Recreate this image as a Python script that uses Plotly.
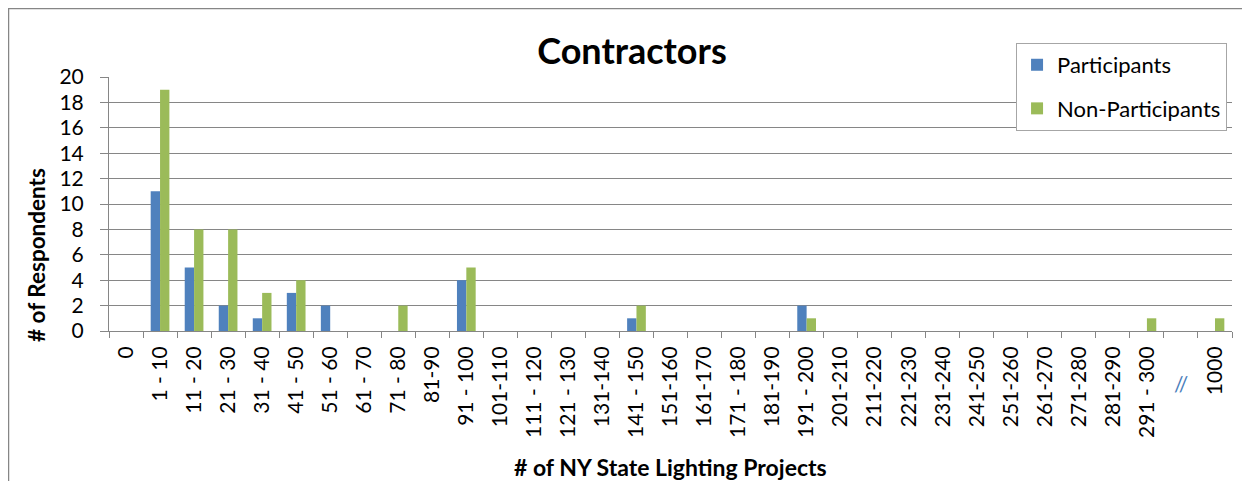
import plotly.graph_objects as go

# Project count buckets (the blank slot before 1000 is the axis break)
categories = [
    "0", "1 - 10", "11 - 20", "21 - 30", "31 - 40", "41 - 50", "51 - 60",
    "61 - 70", "71 - 80", "81-90", "91 - 100", "101-110", "111 - 120",
    "121 - 130", "131-140", "141 - 150", "151-160", "161-170", "171 - 180",
    "181-190", "191 - 200", "201-210", "211-220", "221-230", "231-240",
    "241-250", "251-260", "261-270", "271-280", "281-290", "291 - 300",
    " ", "1000",
]

participants = [
    0, 11, 5, 2, 1, 3, 2, 0, 0, 0, 4, 0, 0, 0, 0, 1, 0,
    0, 0, 0, 2, 0, 0, 0, 0, 0, 0, 0, 0, 0, 0, 0, 0,
]

non_participants = [
    0, 19, 8, 8, 3, 4, 0, 0, 2, 0, 5, 0, 0, 0, 0, 2, 0,
    0, 0, 0, 1, 0, 0, 0, 0, 0, 0, 0, 0, 0, 1, 0, 1,
]

FONT = "Lato, Calibri, sans-serif"
GRID = "#868686"

# the page adds an 8px body margin, so the figure is 8px smaller each way
W, H = 1242, 473
PLOT_W, PLOT_H = 1123, 254

fig = go.Figure()

fig.add_trace(go.Bar(
    x=categories, y=participants, name="Participants",
    marker=dict(color="#4F81BD", line=dict(width=0)),
    legendgroup="p",
))
fig.add_trace(go.Bar(
    x=categories, y=non_participants, name="Non-Participants",
    marker=dict(color="#9BBB59", line=dict(width=0)),
    legendgroup="n",
))

fig.update_layout(
    width=W,
    height=H,
    margin=dict(l=101, r=18, t=69, b=150, autoexpand=False),
    paper_bgcolor="white",
    plot_bgcolor="white",
    font=dict(family=FONT, size=20, color="black"),
    barmode="group",
    bargap=0.45,
    bargroupgap=0,
    title=dict(
        text="Contractors",
        font=dict(family=FONT, size=36, weight="bold", color="black"),
        x=624 / W, xanchor="center",
        y=1 - 43 / H, yanchor="middle", yref="container",
    ),
    legend=dict(
        x=0.8077, xanchor="left",
        y=1.134, yanchor="top",
        bgcolor="white",
        bordercolor="#A6A6A6",
        borderwidth=1,
        font=dict(family=FONT, size=22),
        traceorder="grouped",
        tracegroupgap=12,
    ),
    showlegend=True,
)

fig.update_xaxes(
    type="category",
    tickangle=-90,
    tickson="boundaries",
    ticks="outside",
    ticklen=6,
    tickcolor=GRID,
    showline=True,
    linecolor=GRID,
    showgrid=False,
    ticklabelstandoff=6,
    tickfont=dict(family=FONT, size=21),
)

fig.update_yaxes(
    range=[0, 20],
    dtick=2,
    ticks="outside",
    ticklen=8,
    tickcolor=GRID,
    showline=True,
    linecolor=GRID,
    showgrid=True,
    gridcolor=GRID,
    gridwidth=1,
    zeroline=False,
    ticklabelstandoff=12,
    tickfont=dict(family=FONT, size=21),
)

# Axis titles and the axis break mark
fig.add_annotation(
    text="# of Respondents", textangle=-90,
    xref="paper", yref="paper", x=(36 - 109) / PLOT_W, y=(331 - 255) / PLOT_H,
    xanchor="center", yanchor="middle",
    showarrow=False, font=dict(family=FONT, size=22.5, weight="bold"),
)
fig.add_annotation(
    text="# of NY State Lighting Projects",
    xref="paper", yref="paper", x=0.5, y=(331 - 467) / PLOT_H,
    xanchor="center", yanchor="middle",
    showarrow=False, font=dict(family=FONT, size=23, weight="bold"),
)
fig.add_annotation(
    text="//", xref="x", yref="paper", x=" ", y=(331 - 383) / PLOT_H,
    xanchor="center", yanchor="middle",
    showarrow=False, font=dict(family=FONT, size=21, color="#4A7EBB"),
)

# Outer chart border
fig.add_shape(
    type="rect", xref="paper", yref="paper",
    x0=(8.5 - 109) / PLOT_W, x1=(1247 - 109) / PLOT_W,
    y0=(331 - 500) / PLOT_H, y1=(331 - 8.5) / PLOT_H,
    line=dict(color="#868686", width=1.5),
)

fig.write_html("out.html")
